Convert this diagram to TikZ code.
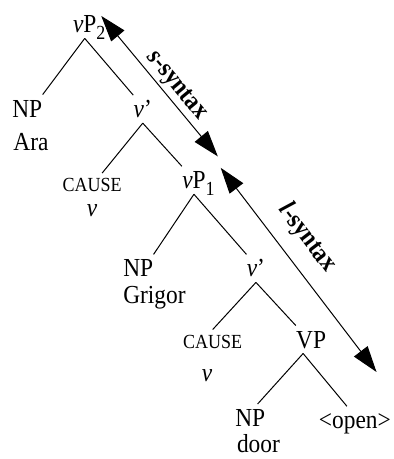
\documentclass[tikz,border=0pt]{standalone}
\usepackage{fontspec}
\setmainfont{Liberation Serif}[FakeStretch=0.9]
\usetikzlibrary{arrows.meta}
\newcommand\lowidx[1]{\rlap{\raisebox{-3.5pt}{\fontsize{10}{10}\selectfont #1}}}
\begin{document}
\begin{tikzpicture}[
  font=\fontsize{13}{15}\selectfont,
  cat/.style={anchor=base, inner xsep=0pt, inner ysep=2.5pt, text height=8.6pt, text depth=0pt},
  word/.style={anchor=base west, inner sep=0pt},
  smallcat/.style={cat, font=\fontsize{10}{12}\selectfont, text height=6.6pt},
  branch/.style={line width=0.5pt},
  span/.style={line width=0.5pt, {Triangle[length=13pt,width=8.5pt]}-{Triangle[length=13pt,width=8.5pt]}},
  spanlabel/.style={sloped, inner sep=1pt, font=\fontsize{13}{15}\selectfont\bfseries},
]
\useasboundingbox (0,0) rectangle (6.91,-8.07);
\node[cat] (vp2) at (1.49,-0.58) {\textit{v}P\lowidx{2}};
\node[cat, anchor=base west] (np1) at (0.21,-2.06) {NP};
\node[word] (ara) at (0.23,-2.64) {Ara};
\node[cat] (vbar1) at (2.51,-2.07) {\textit{v}'};
\node[smallcat] (cause1) at (1.62,-3.37) {CAUSE};
\node[word, anchor=base] (v1) at (1.62,-3.81) {\textit{v}};
\node[cat] (vp1) at (3.41,-3.32) {\textit{v}P\lowidx{1}};
\node[cat, anchor=base west] (np2) at (2.16,-4.87) {NP};
\node[word] (grigor) at (2.16,-5.34) {Grigor};
\node[cat] (vbar2) at (4.50,-4.87) {\textit{v}'};
\node[smallcat] (cause2) at (3.74,-6.12) {CAUSE};
\node[word, anchor=base] (v2) at (3.64,-6.71) {\textit{v}};
\node[cat] (vp) at (5.47,-6.12) {VP};
\node[cat, anchor=base west] (np3) at (4.13,-7.50) {NP};
\node[word] (door) at (4.16,-7.96) {door};
\node[cat] (open) at (6.24,-7.54) {<open>};
\draw[branch] (vp2.south) -- (np1.north east);
\draw[branch] (vp2.south) -- (vbar1.north west);
\draw[branch] (vbar1.south) -- ([xshift=5pt]cause1.north);
\draw[branch] (vbar1.south) -- (vp1.north west);
\draw[branch] (vp1.south) -- (np2.north east);
\draw[branch] (vp1.south) -- (vbar2.north west);
\draw[branch] (vbar2.south) -- (cause2.north);
\draw[branch] (vbar2.south) -- (vp.north west);
\draw[branch] ([xshift=-4pt]vp.south) -- ([xshift=-4pt]np3.north east);
\draw[branch] ([xshift=-4pt]vp.south) -- ([xshift=-4pt]open.north);
\coordinate (stop) at (1.78,-0.28);
\coordinate (sbot) at (3.83,-2.75);
\coordinate (ltop) at (3.88,-2.95);
\coordinate (lbot) at (6.62,-6.54);
\draw[span] (stop) -- node[spanlabel, above, pos=0.56] {\textit{s}-syntax} (sbot);
\draw[span] (ltop) -- node[spanlabel, above=6pt, pos=0.42] {\textit{l}-syntax} (lbot);
\end{tikzpicture}
\end{document}
